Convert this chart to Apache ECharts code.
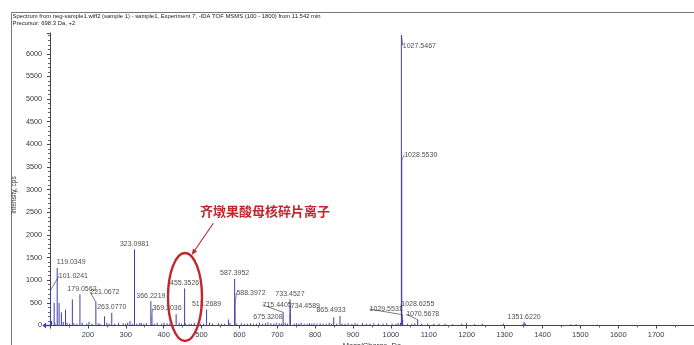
<!DOCTYPE html>
<html>
<head>
<meta charset="utf-8">
<script src="https://cdn.jsdelivr.net/npm/echarts@6/dist/echarts.min.js"></script>
<style>
  html, body { margin: 0; padding: 0; background: #fff; }
  #main { width: 694px; height: 345px; }
</style>
</head>
<body>
<div id="main"></div>
<script>
// Annotated peaks: m/z and intensity (cps)
const labeledMz = [101.0241, 119.0349, 179.0562, 221.0672, 263.0770, 323.0981, 366.2219, 369.2036,
  455.3526, 513.2689, 587.3952, 588.3972, 675.3208, 715.4405, 733.4527, 734.4589, 865.4933,
  1027.5467, 1028.5530, 1028.6255, 1029.5531, 1070.5678, 1351.6220];
const labeledIntensity = [770, 1270, 690, 520, 280, 1680, 540, 220,
  820, 350, 1030, 450, 70, 290, 580, 260, 210,
  6410, 3650, 200, 240, 130, 80];

// Unlabelled fragment / noise peaks
const minorMz = [104, 111, 113, 124, 130, 135, 141, 145, 152, 159, 163, 171, 185, 197, 203, 211, 227, 232,
  244, 250, 256, 271, 281, 293, 299, 305, 311, 317, 329, 337, 341, 348, 355, 375, 383, 395, 401, 409,
  415, 421, 433, 441, 447, 458, 467, 473, 481, 497, 505, 521, 529, 545, 553, 561, 571, 575, 593, 605,
  613, 621, 629, 637, 645, 653, 661, 669, 683, 691, 697, 705, 711, 721, 727, 745, 751, 757, 763, 771,
  779, 785, 791, 797, 805, 813, 821, 829, 837, 843, 849, 857, 871, 879, 887, 897, 905, 911, 925, 935,
  945, 955, 967, 979, 989, 1003, 1013, 1019, 1025, 1031, 1044, 1055, 1063, 1081, 1097, 1113, 1127,
  1143, 1163, 1187, 1199, 1221, 1241, 1297, 1349, 1355, 1475, 1489, 1545];
const minorIntensity = [100, 500, 50, 500, 290, 80, 350, 60, 40, 575, 50, 40, 60, 40, 80, 40, 50, 40,
  205, 60, 40, 40, 60, 50, 40, 60, 100, 40, 40, 60, 50, 40, 50, 40, 60, 40, 60, 50,
  40, 40, 250, 60, 40, 50, 40, 40, 60, 40, 40, 60, 40, 50, 40, 40, 130, 60, 40, 50,
  40, 40, 50, 40, 40, 60, 40, 50, 50, 40, 60, 50, 40, 60, 40, 40, 50, 40, 60, 40,
  40, 50, 40, 50, 40, 50, 40, 40, 60, 40, 180, 40, 40, 40, 50, 40, 50, 40, 50, 40,
  40, 50, 40, 40, 50, 40, 40, 50, 60, 120, 40, 40, 50, 40, 40, 40, 40,
  40, 30, 40, 50, 30, 40, 40, 40, 40, 30, 30, 20];

// Label placement shifts (dx, dy) and whether a guide line is drawn
const labelShift = [[23, -9, 1], [14, 0, 0], [2, 0, 0], [9, -4, 1], [0, 0, 0], [0, 0, 0], [0, 1, 0], [15, -1.5, 1],
  [0, 0, 0], [0, 0, 0], [0, 0, 0], [16, -7, 1], [0, 0, 0], [-6, -2, 1], [0, 0, 0], [15, -2, 1], [-9, 0, 0],
  [18, 16, 1], [19, 0, 1], [16, -7, 1], [-16, 0, 1], [5, 0, 1], [0, 1, 0]];

const xHidden = [100, 1800];

const peaks = labeledMz.map((m, i) => [m, labeledIntensity[i]])
  .concat(minorMz.map((m, i) => [m, minorIntensity[i]]));

const narrow = '"Liberation Sans Narrow", "Arial Narrow", "Liberation Sans", sans-serif';
const red = '#c0272d';

const chart = echarts.init(document.getElementById('main'), null, { renderer: 'canvas' });

chart.setOption({
  animation: false,
  backgroundColor: '#ffffff',
  grid: { left: 50, right: 0, top: 33, bottom: 19.5, containLabel: false, outerBoundsMode: 'none' },
  xAxis: {
    type: 'value', min: 100, max: 1800, interval: 100,
    name: 'Mass/Charge, Da', nameLocation: 'middle', nameGap: 16, nameMoveOverlap: false,
    nameTextStyle: { fontFamily: narrow, fontSize: 7.5, color: '#333' },
    axisLine: { lineStyle: { color: '#444', width: 1 } },
    axisTick: { length: 3, lineStyle: { color: '#444' } },
    minorTick: { show: true, splitNumber: 2, length: 2, lineStyle: { color: '#666' } },
    splitLine: { show: false },
    axisLabel: {
      fontFamily: narrow, fontSize: 7.5, color: '#3a4250', margin: 5,
      formatter: v => (xHidden.includes(v) ? '' : String(v))
    }
  },
  yAxis: {
    type: 'value', min: 0, max: 6460, interval: 500,
    axisLine: { show: true, lineStyle: { color: '#444', width: 1 } },
    axisTick: { show: true, length: 3, lineStyle: { color: '#444' } },
    minorTick: { show: true, splitNumber: 5, length: 2, lineStyle: { color: '#666' } },
    splitLine: { show: false },
    axisLabel: {
      fontFamily: narrow, fontSize: 7.2, color: '#333', margin: 8, showMaxLabel: false,
      formatter: v => String(v)
    }
  },
  series: [
    {
      type: 'custom',
      silent: true,
      clip: true,
      data: peaks,
      renderItem: function (params, api) {
        const top = api.coord([api.value(0), api.value(1)]);
        const base = api.coord([api.value(0), 0]);
        return {
          type: 'line',
          shape: { x1: top[0], y1: base[1], x2: top[0], y2: top[1] },
          style: { stroke: '#3b3fb2', lineWidth: 1 }
        };
      }
    },
    {
      type: 'scatter',
      silent: true,
      symbolSize: 0,
      z: 5,
      data: labeledMz.map((m, i) => ({
        value: [m, labeledIntensity[i]],
        labelLine: { show: labelShift[i][2] === 1 }
      })),
      label: {
        show: true, position: 'top', distance: 2,
        fontFamily: narrow, fontSize: 7, color: '#222',
        formatter: p => labeledMz[p.dataIndex].toFixed(4)
      },
      labelLine: { show: false, lineStyle: { color: '#444', width: 0.7 } },
      labelLayout: p => ({ dx: labelShift[p.dataIndex][0], dy: labelShift[p.dataIndex][1] })
    }
  ],
  graphic: [
    { type: 'line', shape: { x1: 11.5, y1: 12.5, x2: 694, y2: 12.5 }, style: { stroke: '#777', lineWidth: 1 }, silent: true },
    { type: 'line', shape: { x1: 11.5, y1: 12.5, x2: 11.5, y2: 345 }, style: { stroke: '#777', lineWidth: 1 }, silent: true },
    {
      type: 'text', x: 12.5, y: 16.5,
      style: {
        text: 'Spectrum from neg-sample1.wiff2 (sample 1) - sample1, Experiment 7, -IDA TOF MSMS (100 - 1800) from 11.542 min',
        font: '5.9px ' + narrow, fill: '#222', textVerticalAlign: 'middle'
      }
    },
    {
      type: 'text', x: 12.5, y: 23.5,
      style: { text: 'Precursor: 698.3 Da, +2', font: '5.9px ' + narrow, fill: '#222', textVerticalAlign: 'middle' }
    },
    {
      type: 'text', x: 14, y: 195, rotation: Math.PI / 2,
      style: { text: 'Intensity, cps', font: '6.5px ' + narrow, fill: '#333', textAlign: 'center', textVerticalAlign: 'middle' }
    },
    {
      type: 'text', x: 265, y: 211,
      style: {
        text: '齐墩果酸母核碎片离子', font: 'bold 13px "Noto Sans CJK SC"', fill: red,
        textAlign: 'center', textVerticalAlign: 'middle'
      }, z: 20
    },
    { type: 'line', shape: { x1: 213.3, y1: 223.3, x2: 194.5, y2: 250.8 }, style: { stroke: red, lineWidth: 1.1 }, z: 20 },
    { type: 'polygon', shape: { points: [[191.7, 255], [197.1, 251.4], [193.0, 248.6]] }, style: { fill: red }, z: 20 },
    { type: 'ellipse', shape: { cx: 185, cy: 297, rx: 17, ry: 44 }, style: { stroke: red, fill: 'none', lineWidth: 2.4 }, z: 20 },
    { type: 'polygon', shape: { points: [[42.5, 325.5], [46, 322.5], [46, 328.5]] }, style: { fill: '#3b3fb2' }, z: 20 },
    { type: 'line', shape: { x1: 44, y1: 325.5, x2: 50, y2: 325.5 }, style: { stroke: '#3b3fb2', lineWidth: 1.5 }, z: 20 }
  ]
});
</script>
</body>
</html>
